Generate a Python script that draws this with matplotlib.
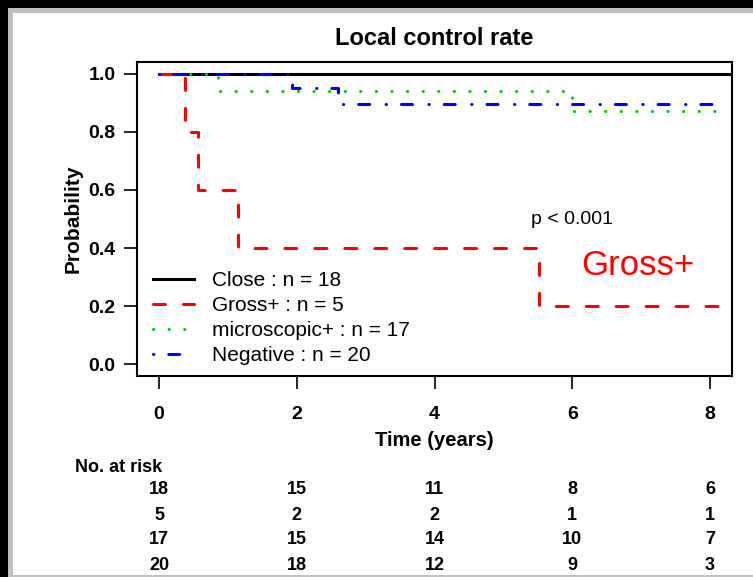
import matplotlib
matplotlib.use('Agg')
import matplotlib.pyplot as plt
from matplotlib.patches import Rectangle

plt.rcParams['font.family'] = ['Liberation Sans', 'DejaVu Sans']

# Kaplan-Meier step curves: times where the estimate changes, and the estimate after each
close_t = [0, 8.4]
close_s = [1.0, 1.0]
gross_t = [0, 0.37, 0.57, 1.14, 5.52, 8.2]
gross_s = [1.0, 0.8, 0.6, 0.4, 0.2, 0.2]
micro_t = [0, 0.86, 6.0, 8.24]
micro_s = [1.0, 0.941, 0.87, 0.87]
neg_t = [0, 1.93, 2.6, 8.24]
neg_s = [1.0, 0.95, 0.894, 0.894]

labels = ['Close : n = 18', 'Gross+ : n = 5', 'microscopic+ : n = 17', 'Negative : n = 20']

# numbers at risk at each x tick
risk_times = [0, 2, 4, 6, 8]
risk_close = [18, 15, 11, 8, 6]
risk_gross = [5, 2, 2, 1, 1]
risk_micro = [17, 15, 14, 10, 7]
risk_neg = [20, 18, 12, 9, 3]

fig = plt.figure(figsize=(7.53, 5.77), dpi=100)
fig.patch.set_facecolor('black')
W, H = 753, 577
fig.add_artist(Rectangle((8 / W, 0), 1, (H - 8) / H, transform=fig.transFigure,
                         facecolor='#c0c0c0', edgecolor='none', zorder=-2))
fig.add_artist(Rectangle((13 / W, 2 / H), 1, (H - 15) / H, transform=fig.transFigure,
                         facecolor='white', edgecolor='none', zorder=-1))

ax = fig.add_axes([137 / W, 1 - 376 / H, 595 / W, 314 / H])

lw = 2.2
ax.plot(close_t, close_s, drawstyle='steps-post', color='black', lw=lw, label=labels[0])
ax.plot(gross_t, gross_s, drawstyle='steps-post', color='#ff0000', lw=lw,
        linestyle=(0, (3.9, 5.9)), dash_capstyle='round', label=labels[1])
ax.plot(micro_t, micro_s, drawstyle='steps-post', color='#00cd00', lw=lw,
        linestyle=(0, (0.1, 5.0)), dash_capstyle='round', label=labels[2])
ax.plot(neg_t, neg_s, drawstyle='steps-post', color='#0000ff', lw=lw,
        linestyle=(0, (0.1, 4.9, 3.6, 5.4)), dash_capstyle='round', label=labels[3])

ax.set_xlim(-0.32, 8.32)
ax.set_ylim(-0.04, 1.04)

for sp in ax.spines.values():
    sp.set_linewidth(1.5)

ax.set_xticks(risk_times, [str(t) for t in risk_times], fontsize=14, fontweight='bold')
yt = [0.0, 0.2, 0.4, 0.6, 0.8, 1.0]
ax.set_yticks(yt, [f'{v:.1f}' for v in yt], fontsize=14, fontweight='bold')
ax.tick_params(axis='both', direction='out', length=9.4, width=1.2)
ax.tick_params(axis='x', pad=12)
ax.tick_params(axis='y', pad=6)

ax.set_title('Local control rate', fontsize=17, fontweight='bold', y=1.076, va='center', pad=0)
ax.set_xlabel('Time (years)', fontsize=14.5, fontweight='bold', va='center')
ax.xaxis.set_label_coords(0.5, -0.207)
ax.set_ylabel('Probability', fontsize=15, fontweight='bold', va='center')
ax.yaxis.set_label_coords(-0.108, 0.5)

ax.legend(loc='upper left', bbox_to_anchor=(0.027, 0.334), frameon=False, fontsize=15,
          handlelength=1.95, handletextpad=0.9, labelspacing=0.29,
          borderpad=0, borderaxespad=0)

ax.text(6.0, 0.50, 'p < 0.001', fontsize=14, ha='center', va='center')
ax.text(6.95, 0.34, 'Gross+', fontsize=25, color='#ff0000', ha='center', va='center')

# number-at-risk table under the x axis
tr = ax.get_xaxis_transform()
ax.text(-0.104, (376 - 467) / 314, 'No. at risk', transform=ax.transAxes,
        fontsize=13, fontweight='bold', ha='left', va='center', clip_on=False)
for row, counts in enumerate([risk_close, risk_gross, risk_micro, risk_neg]):
    y = (376 - 490 - 25 * row) / 314
    for t, n in zip(risk_times, counts):
        ax.text(t, y, str(n), transform=tr, fontsize=13, fontweight='bold',
                ha='center', va='center', clip_on=False)

fig.savefig('out.png', dpi=100, facecolor=fig.get_facecolor())
